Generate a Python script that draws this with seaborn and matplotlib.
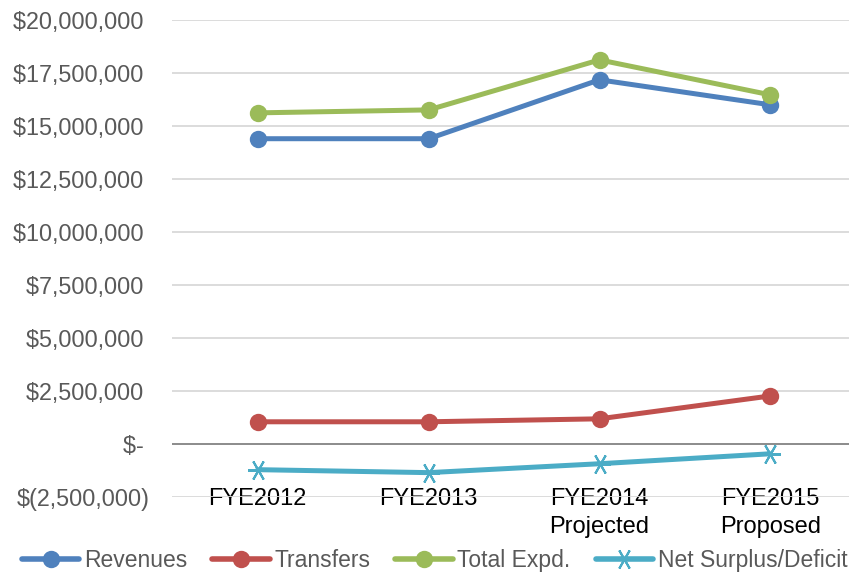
import numpy as np
import pandas as pd
import matplotlib.pyplot as plt
import seaborn as sns
from matplotlib.ticker import FuncFormatter

years = ['FYE2012', 'FYE2013', 'FYE2014\nProjected', 'FYE2015\nProposed']
revenues = [14400000, 14400000, 17180000, 16000000]
transfers = [1040000, 1040000, 1180000, 2260000]
total_expd = [15620000, 15760000, 18120000, 16470000]
net_surplus = [-1220000, -1360000, -940000, -470000]

series_names = ['Revenues', 'Transfers', 'Total Expd.', 'Net Surplus/Deficit']
colors = ['#4F81BD', '#C0504D', '#9BBB59', '#4BACC6']
marker_list = ['o', 'o', 'o', (6, 2, 90)]
marker_sizes = [11, 11, 11, 15]

# long table for seaborn
rows = []
for name, vals in zip(series_names, [revenues, transfers, total_expd, net_surplus]):
    for i, v in enumerate(vals):
        rows.append({'pos': i, 'series': name, 'value': v})
df = pd.DataFrame(rows)

sns.set_style('white')
plt.rcParams['font.family'] = ['Liberation Sans', 'DejaVu Sans']

fig = plt.figure(figsize=(8.49, 5.73), dpi=100)
ax = fig.add_axes([0.203, 0.133, 0.805, 0.832])

ax.set_ylim(-2500000, 20000000)
ax.set_yticks(np.arange(-2500000, 20000001, 2500000))
ax.grid(axis='y', color='#d9d9d9', linewidth=1.3)
ax.set_axisbelow(True)
ax.axhline(0, color='#868686', linewidth=1.3, zorder=1)

# one call per series (filled and line markers can't be mixed in one call)
for name, c, m, ms in zip(series_names, colors, marker_list, marker_sizes):
    sns.lineplot(data=df[df['series'] == name], x='pos', y='value',
                 color=c, marker=m, markersize=ms, markeredgewidth=1.5,
                 markeredgecolor=c, linewidth=3.6, sort=False, ax=ax,
                 solid_capstyle='round')

def money(v, pos):
    if abs(v) < 1:
        return '$- '
    if v < 0:
        return '$({:,.0f})'.format(-v)
    return '${:,.0f} '.format(v)

ax.yaxis.set_major_formatter(FuncFormatter(money))
ax.set_xlim(-0.5, 3.5)
ax.set_xticks(range(len(years)))
ax.set_xticklabels(years, fontsize=17, color='black', linespacing=1.35)
ax.tick_params(axis='x', length=0, pad=-6)
ax.tick_params(axis='y', length=0, labelsize=16.8, labelcolor='#595959', pad=16)
ax.set_xlabel('')
ax.set_ylabel('')
for s in ax.spines.values():
    s.set_visible(False)

handles = [plt.Line2D([], [], color=c, linewidth=4, marker=m, markersize=ms,
                      markeredgewidth=1.5)
           for c, m, ms in zip(colors, marker_list, marker_sizes)]
fig.legend(handles, series_names, loc='lower center', ncol=4, frameon=False,
           bbox_to_anchor=(0.512, -0.035), fontsize=16.5, handlelength=2.5,
           handletextpad=0.2, columnspacing=1.1, labelcolor='#595959')

fig.savefig('out.png', dpi=100)
